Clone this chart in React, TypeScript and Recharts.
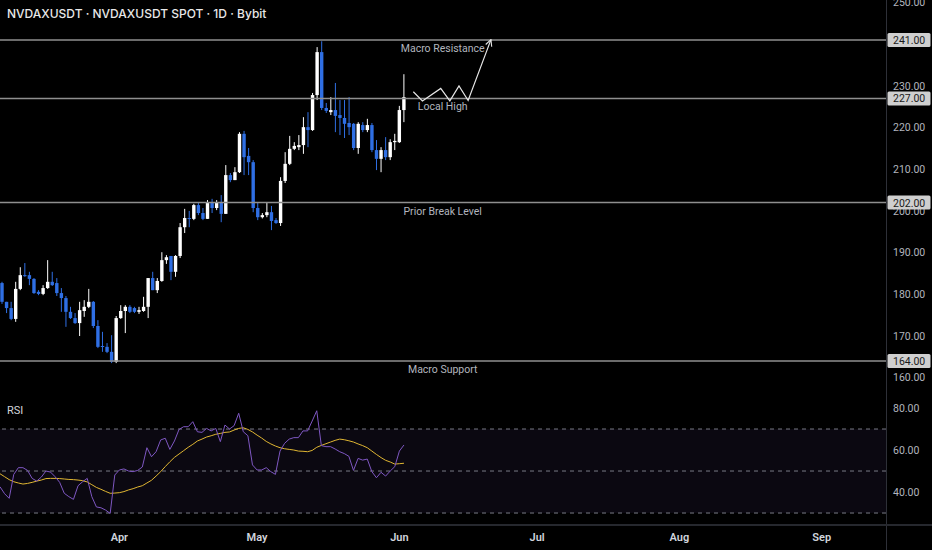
import React from 'react';
import {
  ComposedChart,
  Bar,
  Line,
  XAxis,
  YAxis,
  ReferenceLine,
  ReferenceArea,
  ReferenceDot,
} from 'recharts';

// ---------- data ----------
const opens = [
  182.7, 178.2, 176.7, 174.1, 181.3, 184.6, 184.6, 183.7, 180.6, 180.1,
  181.5, 183.0, 182.7, 180.3, 179.1, 175.8, 174.3, 173.1, 176.0, 177.0,
  178.2, 172.4, 167.6, 167.4, 166.2, 163.8, 174.3, 176.0, 177.0, 176.7,
  175.8, 176.0, 177.0, 183.9, 181.0, 183.2, 188.2, 189.2, 185.4, 189.2,
  196.1, 198.3, 198.1, 201.4, 199.5, 198.1, 201.9, 200.7, 202.1, 199.3,
  208.6, 207.4, 209.3, 218.5, 213.2, 211.7, 200.7, 198.5, 199.0, 199.7,
  197.8, 197.1, 207.2, 211.3, 214.9, 215.3, 215.8, 220.1, 219.4, 227.8,
  238.1, 224.7, 223.7, 224.2, 223.0, 222.3, 221.1, 220.9, 215.1, 220.6,
  219.4, 220.6, 214.6, 212.5, 214.6, 212.9, 216.5, 216.5, 224.2,
];
const highs = [
  183.0, 178.2, 178.2, 183.0, 186.5, 187.5, 185.4, 183.9, 181.0, 182.2,
  188.2, 185.4, 183.9, 181.5, 179.6, 177.0, 175.5, 178.2, 178.6, 181.3,
  178.4, 173.8, 171.0, 168.3, 170.2, 174.8, 177.4, 177.4, 177.4, 177.0,
  177.0, 179.4, 183.9, 185.4, 183.9, 190.1, 189.4, 189.2, 189.4, 197.1,
  200.5, 200.0, 201.7, 201.9, 200.7, 202.6, 202.9, 202.6, 203.8, 211.0,
  209.1, 210.5, 218.9, 219.2, 215.1, 212.2, 201.9, 199.5, 201.9, 201.2,
  198.3, 208.1, 214.1, 218.0, 216.5, 218.2, 222.5, 223.7, 228.3, 239.3,
  240.7, 225.9, 227.3, 230.7, 226.6, 226.6, 227.3, 221.1, 221.3, 221.3,
  222.1, 221.1, 217.0, 215.3, 217.7, 217.2, 218.5, 225.2, 232.8,
];
const lows = [
  177.7, 175.5, 173.8, 173.4, 181.0, 184.2, 182.2, 180.1, 179.8, 179.8,
  181.3, 182.0, 179.6, 175.8, 172.2, 174.1, 172.9, 170.0, 174.6, 176.7,
  171.9, 167.1, 166.2, 165.9, 163.5, 163.5, 174.1, 170.7, 175.5, 175.5,
  175.3, 175.8, 174.3, 181.0, 180.3, 183.0, 187.3, 183.4, 184.2, 188.7,
  194.7, 196.1, 197.8, 199.0, 197.8, 198.1, 199.5, 200.2, 197.3, 199.3,
  206.9, 207.4, 209.1, 208.6, 208.6, 199.7, 197.8, 198.2, 198.5, 195.4,
  196.9, 196.4, 206.7, 211.0, 214.6, 214.6, 213.7, 215.3, 219.2, 226.6,
  224.2, 223.5, 223.0, 218.9, 218.2, 217.5, 218.2, 214.6, 213.7, 218.9,
  218.9, 214.1, 209.8, 209.3, 212.2, 212.2, 214.6, 216.3, 221.3,
];
const closes = [
  178.2, 176.7, 174.1, 181.3, 184.6, 184.4, 183.7, 180.3, 180.1, 181.5,
  183.0, 182.2, 180.3, 179.1, 175.8, 174.3, 173.1, 176.2, 177.0, 178.2,
  172.4, 167.4, 167.4, 166.2, 163.8, 174.3, 176.0, 177.0, 175.8, 175.8,
  176.2, 177.0, 183.9, 181.0, 183.2, 188.2, 188.9, 185.4, 189.2, 196.1,
  198.3, 198.1, 201.4, 199.5, 198.1, 201.9, 200.7, 202.1, 199.3, 208.6,
  207.4, 209.3, 218.5, 212.9, 211.7, 200.7, 198.5, 199.0, 199.7, 197.6,
  197.1, 207.2, 211.3, 214.9, 215.6, 215.8, 220.1, 219.4, 227.8, 238.1,
  224.7, 224.0, 224.2, 222.8, 222.3, 220.9, 220.1, 215.1, 220.9, 219.4,
  220.6, 214.6, 212.5, 214.6, 212.9, 216.5, 216.8, 224.2, 227.3,
];
const rsiValues = [
  42.5, 39.2, 37.0, 48.4, 51.6, 51.6, 50.3, 46.5, 45.2, 47.1,
  50.0, 49.5, 47.3, 44.6, 39.4, 37.8, 36.5, 43.0, 44.9, 46.5,
  37.8, 32.9, 32.5, 31.4, 29.8, 48.1, 50.5, 51.0, 50.0, 49.7,
  50.3, 51.9, 61.1, 56.8, 59.2, 64.8, 65.6, 60.3, 64.3, 69.8,
  71.1, 71.1, 73.5, 68.7, 68.4, 70.3, 69.1, 70.3, 64.0, 71.9,
  70.0, 71.6, 77.5, 68.7, 66.8, 52.9, 50.5, 50.5, 51.6, 49.7,
  48.4, 59.5, 63.2, 65.2, 65.9, 65.9, 69.1, 69.1, 73.8, 78.7,
  62.1, 61.6, 61.6, 60.5, 59.2, 58.3, 57.0, 50.3, 56.0, 55.2,
  55.7, 49.7, 46.8, 49.4, 47.6, 50.0, 52.1, 59.5, 62.4,
];
const rsiMa = [
  48.7, 47.3, 45.9, 44.9, 44.3, 43.8, 44.1, 44.6, 45.2, 45.7,
  46.4, 46.5, 46.5, 46.4, 46.2, 46.0, 45.9, 45.7, 45.4, 44.8,
  43.5, 42.2, 41.3, 40.3, 39.4, 39.5, 39.7, 40.2, 41.0, 41.6,
  42.4, 43.0, 44.3, 45.6, 47.6, 49.7, 52.1, 54.4, 56.5, 58.1,
  59.7, 61.3, 62.7, 64.3, 65.2, 66.2, 66.8, 67.5, 67.9, 68.4,
  68.6, 69.5, 70.3, 70.6, 69.8, 68.6, 67.1, 65.7, 64.1, 62.9,
  61.9, 61.1, 60.6, 60.3, 60.0, 59.5, 59.4, 59.2, 59.8, 61.3,
  62.2, 63.0, 63.8, 64.6, 65.2, 64.9, 64.4, 63.8, 62.9, 62.1,
  61.1, 59.5, 57.9, 56.4, 55.1, 54.3, 53.3, 53.5, 53.7,
];
// days counted from the first candle (6 Mar)
const monthTickDays = [26, 56, 87, 117, 148, 179];
const monthLabels = ['Apr', 'May', 'Jun', 'Jul', 'Aug', 'Sep'];
const totalDays = 194;

const levels = [241, 227, 202, 164];
const levelNotes = ['Macro Resistance', 'Local High', 'Prior Break Level', 'Macro Support'];
const noteDay = 96;

const projDays = [90, 92, 96, 98, 100, 102, 107];
const projPrices = [228.6, 226.4, 229.4, 226.4, 230.0, 226.5, 241.1];

const priceTicks = [160, 170, 180, 190, 200, 210, 220, 230, 250];
const rsiTicks = [40, 60, 80];
const rsiBands = [70, 50, 30];

// ---------- styles ----------
const UP = '#ffffff';
const DOWN = '#2f6fe4';
const BG = '#000000';
const AXIS_TEXT = '#b2b5be';
const FONT = 'Roboto, "Noto Sans", sans-serif';
const TITLE_FONT = 'Inter, Roboto, sans-serif';

const data = Array.from({ length: totalDays }, (_, i) => {
  const row: any = { i };
  if (i < opens.length) {
    row.o = opens[i];
    row.h = highs[i];
    row.l = lows[i];
    row.c = closes[i];
    row.rsi = rsiValues[i];
    row.ma = rsiMa[i];
  }
  const p = projDays.indexOf(i);
  if (p >= 0) row.proj = projPrices[p];
  return row;
});

const Candle = (props: any) => {
  const { x, y, width, height, payload } = props;
  if (!payload || payload.o == null) return null;
  const { o, h, l, c } = payload;
  const top = Math.min(y, y + height);
  const hh = Math.abs(height);
  const k = hh / (h - l || 1);
  const cx = x + width / 2;
  const color = c >= o ? UP : DOWN;
  const bTop = top + (h - Math.max(o, c)) * k;
  const bBot = top + (h - Math.min(o, c)) * k;
  const bw = 3.4;
  return (
    <g>
      <line x1={cx} x2={cx} y1={top} y2={top + hh} stroke={color} strokeWidth={1} />
      <rect x={cx - bw / 2} y={bTop} width={bw} height={Math.max(bBot - bTop, 1)} fill={color} />
    </g>
  );
};

const LevelTag = (props: any) => {
  const { viewBox, level } = props;
  if (!viewBox) return null;
  const ax = viewBox.x + viewBox.width;
  const y = viewBox.y;
  return (
    <g>
      <rect x={ax + 1.5} y={y - 7} width={43} height={14} rx={1.5} fill="#cfcfcf" />
      <text x={ax + 7} y={y + 4} fontSize={10.5} fill="#1a1a1a" fontFamily={FONT}>
        {level.toFixed(2)}
      </text>
    </g>
  );
};

const NoteLabel = (props: any) => {
  const { viewBox, text } = props;
  if (!viewBox) return null;
  const cx = viewBox.x + (viewBox.width || 0) / 2 + 2;
  const cy = viewBox.y + (viewBox.height || 0) / 2;
  return (
    <text x={cx} y={cy + 12} textAnchor="middle" fontSize={10.5} fill={AXIS_TEXT} fontFamily={FONT}>
      {text}
    </text>
  );
};

export default function App() {
  return (
    <div
      style={{
        position: 'absolute',
        left: 0,
        top: 0,
        width: 932,
        height: 550,
        background: BG,
        fontFamily: FONT,
        overflow: 'hidden',
      }}
    >
      <div style={{ position: 'absolute', left: 0, top: 0 }}>
        <ComposedChart width={932} height={395} data={data} margin={{ top: 0, right: 0, bottom: 0, left: 0 }}>
          <defs>
            <marker
              id="arrowHead"
              viewBox="0 0 10 10"
              refX="9"
              refY="5"
              markerWidth="8"
              markerHeight="8"
              markerUnits="userSpaceOnUse"
              orient="auto"
            >
              <path d="M1,1 L9,5 L1,9" fill="none" stroke="#e6e6e6" strokeWidth={1.4} />
            </marker>
          </defs>
          <XAxis dataKey="i" type="category" hide />
          <YAxis
            orientation="right"
            width={46}
            domain={[155.85, 250.6]}
            allowDataOverflow
            ticks={priceTicks}
            interval={0}
            axisLine={false}
            tickLine={false}
            tickSize={4}
            tickMargin={3}
            tick={{ fill: AXIS_TEXT, fontSize: 10.5 }}
            tickFormatter={(v: number) => v.toFixed(2)}
          />
          {levels.map((lv) => (
            <ReferenceLine key={'lv' + lv} y={lv} stroke="#8f8f8f" strokeWidth={1.5} />
          ))}
          {levels.map((lv, k) => (
            <ReferenceDot
              key={'nt' + lv}
              x={noteDay}
              y={lv}
              r={0}
              fill="none"
              stroke="none"
              label={<NoteLabel text={levelNotes[k]} />}
            />
          ))}
          <Bar
            dataKey={(d: any) => (d.o == null ? null : [d.l, d.h])}
            shape={(p: any) => <Candle {...p} />}
            isAnimationActive={false}
            barSize={4}
          />
          <Line
            dataKey="proj"
            stroke="#e6e6e6"
            strokeWidth={1.2}
            dot={false}
            connectNulls
            isAnimationActive={false}
            markerEnd="url(#arrowHead)"
          />
        </ComposedChart>
      </div>

      {/* overlay holding the price tags of the levels, drawn above the axis labels */}
      <div style={{ position: 'absolute', left: 0, top: 0, pointerEvents: 'none' }}>
        <ComposedChart width={932} height={395} data={data} margin={{ top: 0, right: 0, bottom: 0, left: 0 }}>
          <XAxis dataKey="i" type="category" hide />
          <YAxis
            orientation="right"
            width={46}
            domain={[155.85, 250.6]}
            allowDataOverflow
            tick={false}
            axisLine={false}
            tickLine={false}
          />
          {levels.map((lv) => (
            <ReferenceLine
              key={'tag' + lv}
              y={lv}
              stroke="none"
              label={<LevelTag level={lv} />}
            />
          ))}
        </ComposedChart>
      </div>

      <div style={{ position: 'absolute', left: 0, top: 395 }}>
        <ComposedChart width={932} height={155} data={data} margin={{ top: 0, right: 0, bottom: 0, left: 0 }}>
          <XAxis
            dataKey="i"
            type="category"
            height={25}
            ticks={monthTickDays}
            interval={0}
            axisLine={false}
            tickLine={false}
            tickSize={4}
            tickMargin={4}
            tick={{ fill: '#d1d4dc', fontSize: 11, fontWeight: 600 }}
            tickFormatter={(v: number) => monthLabels[monthTickDays.indexOf(v)] ?? ''}
          />
          <YAxis
            orientation="right"
            width={46}
            domain={[24.3, 86.2]}
            allowDataOverflow
            ticks={rsiTicks}
            interval={0}
            axisLine={false}
            tickLine={false}
            tickSize={4}
            tickMargin={3}
            tick={{ fill: AXIS_TEXT, fontSize: 10.5 }}
            tickFormatter={(v: number) => v.toFixed(2)}
          />
          <ReferenceArea y1={30} y2={70} fill="#7e57c2" fillOpacity={0.085} stroke="none" />
          {rsiBands.map((b) => (
            <ReferenceLine key={'rb' + b} y={b} stroke="#787b86" strokeDasharray="4 4" strokeWidth={1} />
          ))}
          <Line dataKey="ma" stroke="#e0b632" strokeWidth={1} dot={false} isAnimationActive={false} />
          <Line dataKey="rsi" stroke="#7e57c2" strokeWidth={1} dot={false} isAnimationActive={false} />
        </ComposedChart>
      </div>

      <div style={{ position: 'absolute', left: 886, top: 0, width: 1, height: 550, background: '#2e3038' }} />
      <div style={{ position: 'absolute', left: 0, top: 524, width: 932, height: 2, background: '#26282e' }} />

      <div
        style={{
          position: 'absolute',
          left: 7,
          top: 6,
          color: '#e8e8e8',
          fontSize: 12,
          fontWeight: 500,
          fontFamily: TITLE_FONT,
          whiteSpace: 'nowrap',
        }}
      >
        NVDAXUSDT · NVDAXUSDT SPOT · 1D · Bybit
      </div>
      <div style={{ position: 'absolute', left: 7, top: 404, color: '#d1d4dc', fontSize: 11 }}>RSI</div>
    </div>
  );
}
